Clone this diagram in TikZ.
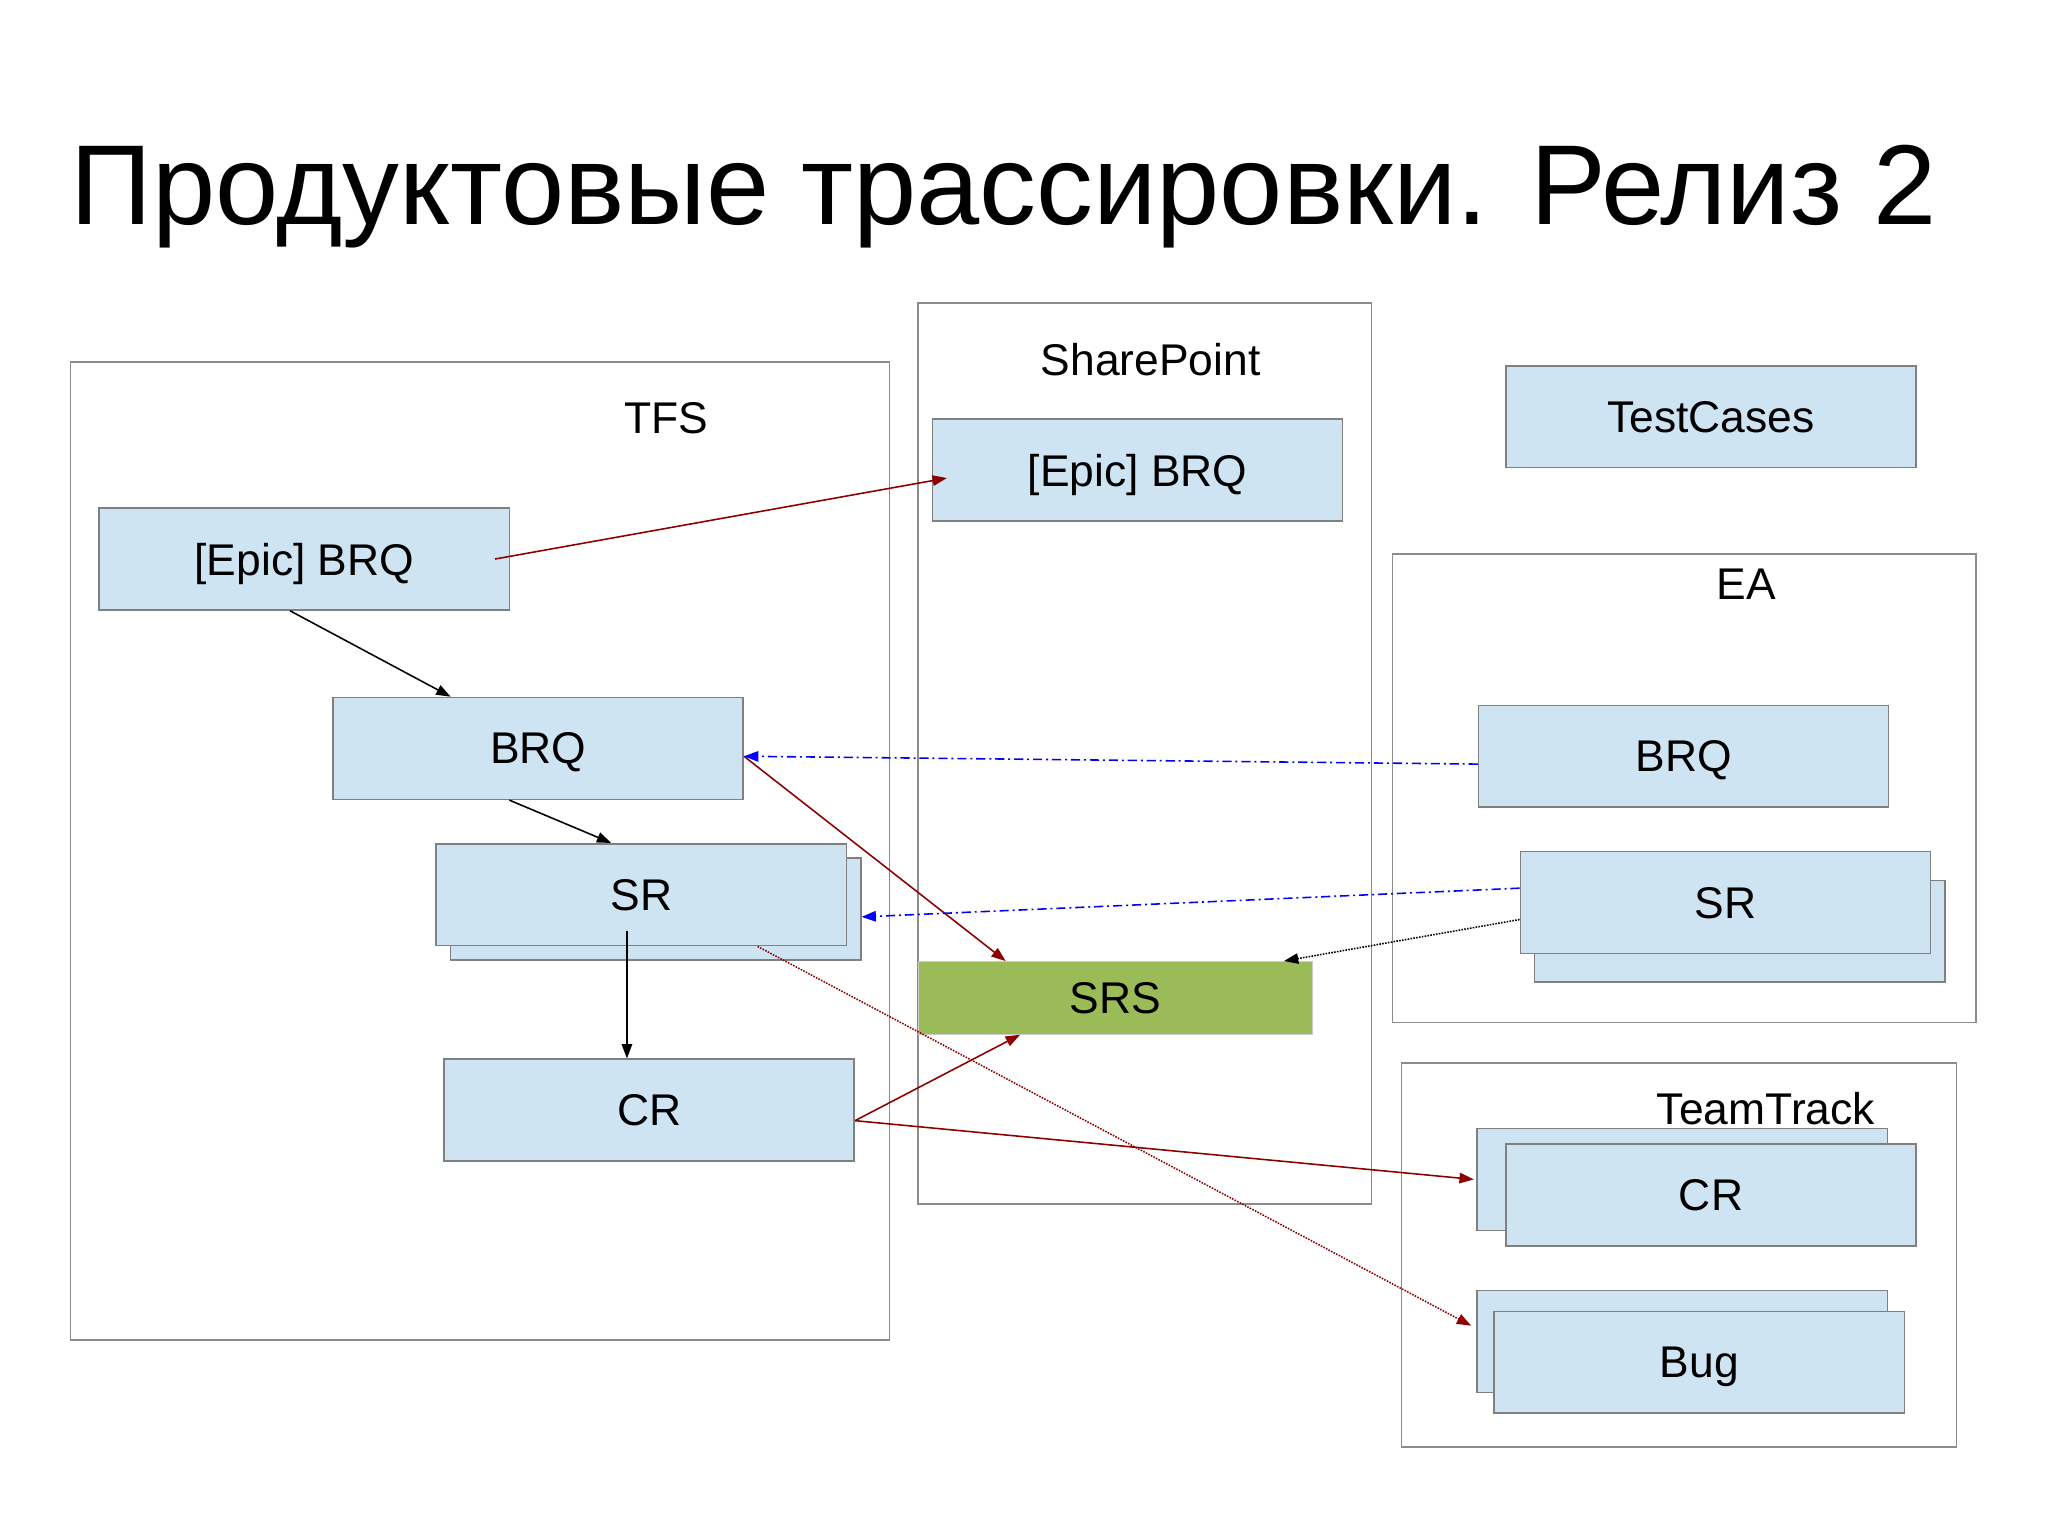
\documentclass[tikz,border=0pt]{standalone}
\usepackage{fontspec}
\setmainfont{Liberation Sans}
\usetikzlibrary{arrows.meta, positioning, calc}
\definecolor{boxblue}{RGB}{207,228,243}
\definecolor{srsgreen}{RGB}{155,187,89}

\begin{document}
\begin{tikzpicture}[
    x=1pt, y=-1pt,
    frame/.style={draw=black!45, line width=1.2pt},
    box/.style={draw=black!50, line width=1.2pt, fill=boxblue, minimum width=314pt, minimum height=78pt, font=\fontsize{34}{40}\selectfont, inner sep=0pt, text depth=-4pt},
    srs/.style={draw=black!20, fill=srsgreen, minimum width=302pt, minimum height=56pt, font=\fontsize{34}{40}\selectfont, inner sep=0pt},
    lbl/.style={font=\fontsize{34}{40}\selectfont},
    arrow/.style={-{Triangle[length=11pt,width=8pt]}, line width=1.2pt},
    red/.style={arrow, draw=red!55!black},
    link/.style={arrow, dash pattern=on 7pt off 3pt on 1.5pt off 3pt, draw=blue, line width=1.2pt},
    dots/.style={arrow, densely dotted},
]
\useasboundingbox (0,0) rectangle (1568,1175);

% Title
\node[anchor=base west, font=\fontsize{87}{100}\selectfont, inner sep=0pt] (title) at (54,172) {Продуктовые трассировки. Релиз 2};

% Frames
\draw[frame] (54,277) rectangle (681,1026);
\draw[frame] (703,232) rectangle (1050,922);
\draw[frame] (1066,424) rectangle (1513,783);
\draw[frame] (1073,814) rectangle (1498,1108);
\node[lbl] (tfs) at (510,320) {TFS};
\node[lbl] (sp) at (881,275) {SharePoint};
\node[lbl] (ea) at (1337,447) {EA};
\node[lbl] (tt) at (1352,849) {TeamTrack};

% TFS
\node[box] (epic) at (233,428) {[Epic] BRQ};
\node[box] (brq) at (412,573) {BRQ};
\node[box] at (502,696) {};
\node[box] (sr) at (491,685) {SR};
\node[box] (cr) at (497,850) {CR};

% SharePoint
\node[box] (spepic) at (871,360) {[Epic] BRQ};
\node[srs] (srsbox) at (854,764) {SRS};

% TestCases, EA
\node[box] (tc) at (1310,319) {TestCases};
\node[box] (eabrq) at (1289,579) {BRQ};
\node[box] at (1332,713) {};
\node[box] (easr) at (1321,691) {SR};

% TeamTrack
\node[box] (ttcrb) at (1288,903) {};
\node[box] (ttcr) at (1310,915) {CR};
\node[box] (bugb) at (1288,1027) {};
\node[box] (bug) at (1301,1043) {Bug};

% Arrows
\draw[red] ([xshift=146pt]epic.center) -- ([xshift=-146pt, yshift=-6pt]spepic.center);
\draw[arrow] ([xshift=-11pt]epic.south) -- ([xshift=-67pt]brq.north);
\draw[arrow] ([xshift=-22pt]brq.south) -- ([xshift=-23pt]sr.north);
\draw[arrow] ([xshift=-11pt, yshift=12pt]sr.south) -- ([xshift=-17pt]cr.north);
\draw[red] ([yshift=-6pt]brq.east) -- ([xshift=-84pt]srsbox.north);
\draw[link] ([yshift=-6pt]eabrq.west) -- ([yshift=-6pt]brq.east);
\draw[link] ([yshift=11pt]easr.west) -- ([xshift=11pt, yshift=-17pt]sr.east);
\draw[dots] ([yshift=-13pt]easr.west) -- ([xshift=129pt]srsbox.north);
\draw[dots, draw=red!55!black] ([xshift=89pt]sr.south) -- ([xshift=-4pt, yshift=12pt]bugb.west);
\draw[red] ([yshift=-8pt]cr.east) -- ([xshift=-73pt]srsbox.south);
\draw[red] ([yshift=-8pt]cr.east) -- ([xshift=-2pt]ttcrb.west);

\end{tikzpicture}
\end{document}
